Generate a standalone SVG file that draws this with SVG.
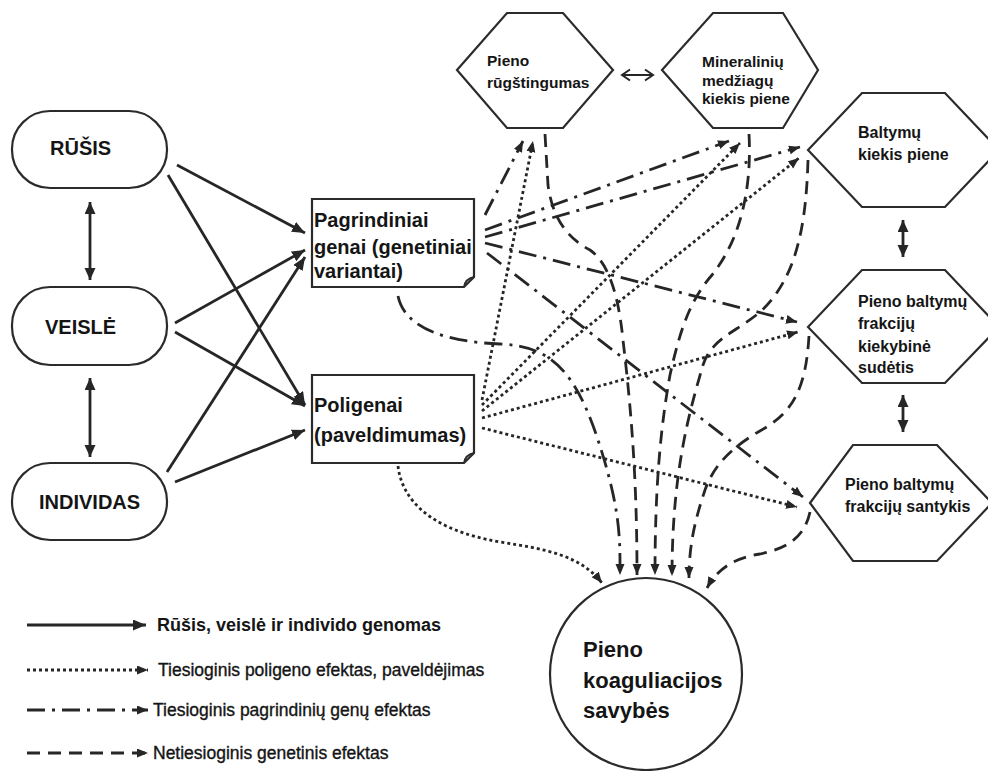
<svg xmlns="http://www.w3.org/2000/svg" width="988" height="771" viewBox="0 0 988 771">
<defs>
<style>
.nd{fill:#fff;stroke:#2b2b2b;stroke-width:2.2}
.t{font-family:"Liberation Sans",Arial,sans-serif;font-weight:bold;fill:#151515}
.tn{font-family:"Liberation Sans",Arial,sans-serif;font-weight:normal;fill:#151515;stroke:#151515;stroke-width:0.35}
.ln{fill:none;stroke:#262626;stroke-width:2.8}
.sol{marker-end:url(#ah)}
.dot{stroke-dasharray:3 3;marker-end:url(#as)}
.dd{stroke-dasharray:18 7 3 7;marker-end:url(#as)}
.da{stroke-dasharray:13 8;marker-end:url(#as)}
.dbl{marker-start:url(#ab);marker-end:url(#ab)}
</style>
<marker id="ah" markerUnits="userSpaceOnUse" markerWidth="14" markerHeight="12" refX="13" refY="5.5" orient="auto"><path d="M0,0 L13,5.5 L0,11 Z" fill="#262626"/></marker>
<marker id="as" markerUnits="userSpaceOnUse" markerWidth="12" markerHeight="10" refX="11" refY="4.5" orient="auto"><path d="M0,0 L11,4.5 L0,9 Z" fill="#262626"/></marker>
<marker id="ab" markerUnits="userSpaceOnUse" markerWidth="13" markerHeight="12" refX="12" refY="5.5" orient="auto-start-reverse"><path d="M0,0 L12,5.5 L0,11 Z" fill="#262626"/></marker>
</defs>
<rect width="988" height="771" fill="#fff"/>

<g id="rusis"><rect class="nd" x="12" y="111" width="155" height="77" rx="38"/><text class="t" x="50" y="155" font-size="20">RŪŠIS</text></g>
<g id="veisle"><rect class="nd" x="12" y="287" width="155" height="78" rx="38"/><text class="t" x="45" y="334" font-size="20">VEISLĖ</text></g>
<g id="individas"><rect class="nd" x="12" y="463" width="155" height="77" rx="38"/><text class="t" x="39" y="509" font-size="20">INDIVIDAS</text></g>

<g id="pagrindiniai"><path class="nd" d="M312,199 L474,199 L474,277 L464,287 L312,287 Z"/><path d="M464,287 Q465,279 474,277" fill="none" stroke="#2b2b2b" stroke-width="1.8"/>
<text class="t" font-size="20"><tspan x="314" y="227">Pagrindiniai</tspan><tspan x="314" y="254">genai (genetiniai</tspan><tspan x="314" y="278">variantai)</tspan></text></g>
<g id="poligenai"><path class="nd" d="M312,375 L474,375 L474,453 L464,463 L312,463 Z"/><path d="M464,463 Q465,455 474,453" fill="none" stroke="#2b2b2b" stroke-width="1.8"/>
<text class="t" font-size="20"><tspan x="314" y="412">Poligenai</tspan><tspan x="314" y="442">(paveldimumas)</tspan></text></g>

<g id="rugstingumas"><path class="nd" d="M457,70 L507,13 L563,13 L613,70 L563,128 L507,128 Z"/>
<text class="t" font-size="15.5"><tspan x="487" y="66">Pieno</tspan><tspan x="487" y="88">rūgštingumas</tspan></text></g>
<g id="mineraliniu"><path class="nd" d="M662,70 L713,13 L783,13 L818,70 L783,128 L713,128 Z"/>
<text class="t" font-size="15.5"><tspan x="702" y="67">Mineralinių</tspan><tspan x="702" y="86">medžiagų</tspan><tspan x="702" y="104">kiekis piene</tspan></text></g>
<g id="baltymu"><path class="nd" d="M808,150 L862,93 L945,93 L999,150 L945,207 L862,207 Z"/>
<text class="t" font-size="16"><tspan x="858" y="138">Baltymų</tspan><tspan x="858" y="160">kiekis piene</tspan></text></g>
<g id="frakciju-sudetis"><path class="nd" d="M808,327 L862,270 L945,270 L999,327 L945,383 L862,383 Z"/>
<text class="t" font-size="16"><tspan x="858" y="307">Pieno baltymų</tspan><tspan x="858" y="329">frakcijų</tspan><tspan x="858" y="352">kiekybinė</tspan><tspan x="858" y="373">sudėtis</tspan></text></g>
<g id="frakciju-santykis"><path class="nd" d="M810,503 L853,445 L937,445 L992,503 L937,561 L853,561 Z"/>
<text class="t" font-size="16"><tspan x="845" y="490">Pieno baltymų</tspan><tspan x="845" y="512">frakcijų santykis</tspan></text></g>
<g id="koaguliacija"><circle class="nd" cx="646" cy="674" r="96" stroke-width="2.6"/>
<text class="t" font-size="22"><tspan x="583" y="657">Pieno</tspan><tspan x="583" y="688">koaguliacijos</tspan><tspan x="583" y="718">savybės</tspan></text></g>

<g id="connectors">
<path class="ln sol" d="M177,165 L305,233"/>
<path class="ln sol" d="M168,175 L305,405"/>
<path class="ln sol" d="M175,323 L305,250"/>
<path class="ln sol" d="M175,332 L305,406"/>
<path class="ln sol" d="M167,472 L305,257"/>
<path class="ln sol" d="M175,482 L305,430"/>
<path class="ln dbl" d="M90,202 L90,280"/>
<path class="ln dbl" d="M90,378 L90,457"/>
<path class="ln dbl" d="M903,220 L903,257"/>
<path class="ln dbl" d="M903,395 L903,432"/>
<path d="M622,75 H653 M630,69.5 L622,75 L630,80.5 M645,69.5 L653,75 L645,80.5" fill="none" stroke="#262626" stroke-width="2"/>

<path class="ln dd" d="M485,215 L523,141"/>
<path class="ln dd" d="M485,230 L729,141"/>
<path class="ln dd" d="M485,237 L800,147"/>
<path class="ln dd" d="M485,243 L797,322"/>
<path class="ln dd" d="M487,253 L803,497"/>
<path class="ln dd" d="M398,296 C405,330 450,342 500,344 S575,370 598,440 S620,540 620,575"/>

<path class="ln dot" d="M482,400 L533,141"/>
<path class="ln dot" d="M482,405 L740,143"/>
<path class="ln dot" d="M482,411 L799,158"/>
<path class="ln dot" d="M482,418 L798,332"/>
<path class="ln dot" d="M482,428 L797,507"/>
<path class="ln dot" d="M398,466 C402,500 430,530 500,542 C545,549 580,555 602,583"/>

<path class="ln da" d="M545,134 L548,185 C552,215 565,237 590,250 C607,262 618,290 623,340 C630,400 637,470 637,575"/>
<path class="ln da" d="M749,134 C752,190 740,240 712,275 C690,300 680,330 670,375 C660,430 655,490 655,575"/>
<path class="ln da" d="M808,160 C806,230 795,280 760,312 C735,333 712,338 703,365 C690,410 672,470 672,576"/>
<path class="ln da" d="M809,336 C806,385 795,410 765,428 C735,445 715,462 705,490 C695,520 689,545 689,578"/>
<path class="ln da" d="M810,512 C805,535 790,548 760,554 C735,558 718,568 707,588"/>

<path class="ln sol" d="M27,625 H146"/>
<path class="ln dot" d="M27,670 H148"/>
<path class="ln dd" d="M27,710 H148"/>
<path class="ln da" d="M27,753 H148"/>
</g>

<g id="legend">
<text class="t" x="157" y="631" font-size="18">Rūšis, veislė ir individo genomas</text>
<text class="tn" x="158" y="676" font-size="17.5">Tiesioginis poligeno efektas, paveldėjimas</text>
<text class="tn" x="153" y="716" font-size="17.5">Tiesioginis pagrindinių genų efektas</text>
<text class="tn" x="153" y="759" font-size="17.5">Netiesioginis genetinis efektas</text>
</g>
</svg>
